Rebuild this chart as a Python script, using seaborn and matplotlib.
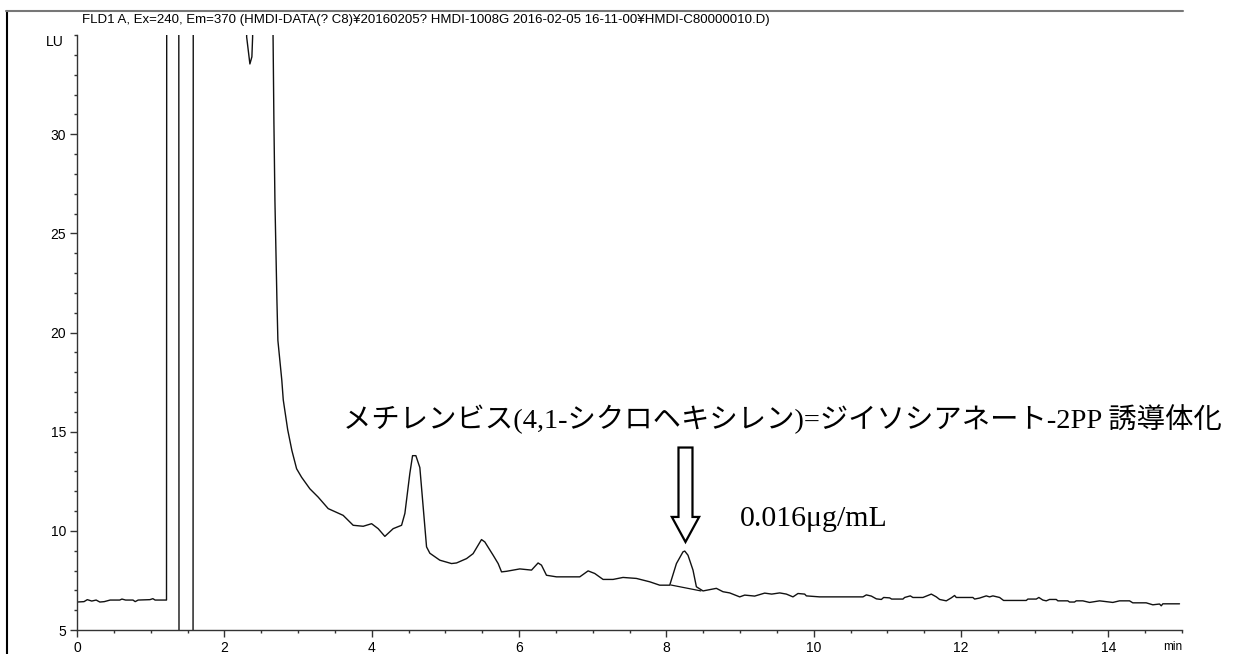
import numpy as np
import pandas as pd
import matplotlib
matplotlib.use("Agg")
import matplotlib.pyplot as plt
from matplotlib.lines import Line2D
from matplotlib.patches import FancyArrow
from matplotlib.ticker import MultipleLocator, FixedLocator
import seaborn as sns

# Fluorescence trace (retention time in min, signal in LU); 60 / 0 mark off-scale excursions
time_min = [
    0.00, 0.095, 0.14, 0.20, 0.26, 0.31, 0.37, 0.45, 0.58, 0.61, 0.66, 0.76, 0.79, 0.83,
    0.99, 1.03, 1.06, 1.215, 1.22, 1.38, 1.385, 1.575, 1.58, 2.29, 2.303, 2.347, 2.374,
    2.384, 2.39, 2.64, 2.66, 2.673, 2.687, 2.714, 2.727, 2.78, 2.80, 2.86, 2.917, 2.981,
    3.049, 3.161, 3.274, 3.410, 3.613, 3.749, 3.885, 3.999, 4.088, 4.179, 4.292, 4.406,
    4.451, 4.518, 4.555, 4.600, 4.654, 4.699, 4.745, 4.790, 4.925, 5.084, 5.152, 5.288,
    5.377, 5.491, 5.536, 5.649, 5.717, 5.763, 5.831, 6.011, 6.170, 6.259, 6.305, 6.373,
    6.509, 6.645, 6.825, 6.938, 7.028, 7.141, 7.277, 7.412, 7.594, 7.775, 7.910, 8.046,
    8.137, 8.226, 8.250, 8.294, 8.362, 8.408, 8.498, 8.679, 8.769, 8.860, 8.996, 9.064,
    9.199, 9.335, 9.430, 9.539, 9.630, 9.719, 9.787, 9.878, 9.901, 10.081, 10.669, 10.715,
    10.783, 10.851, 10.919, 10.950, 11.031, 11.058, 11.212, 11.235, 11.312, 11.347, 11.483,
    11.597, 11.665, 11.710, 11.800, 11.868, 11.913, 11.936, 12.161, 12.185, 12.252, 12.343,
    12.388, 12.433, 12.524, 12.578, 12.886, 12.908, 13.022, 13.057, 13.111, 13.157, 13.202,
    13.293, 13.315, 13.450, 13.473, 13.541, 13.564, 13.654, 13.745, 13.881, 14.061, 14.152,
    14.288, 14.332, 14.514, 14.604, 14.695, 14.718, 14.740, 14.966,
]
signal_lu = [
    6.41, 6.43, 6.53, 6.46, 6.51, 6.41, 6.43, 6.51, 6.51, 6.56, 6.51, 6.51, 6.43, 6.51,
    6.53, 6.58, 6.51, 6.51, 60.0, 60.0, 0.0, 0.0, 60.0, 60.0, 34.9, 33.54, 33.9,
    34.9, 60.0, 60.0, 35.5, 30.6, 26.6, 21.6, 19.6, 17.6, 16.6, 15.1, 14.05, 13.13,
    12.70, 12.12, 11.70, 11.12, 10.78, 10.28, 10.23, 10.36, 10.11, 9.72, 10.11, 10.28,
    10.88, 12.89, 13.79, 13.79, 13.19, 11.20, 9.19, 8.87, 8.52, 8.35, 8.38, 8.60,
    8.85, 9.56, 9.44, 8.77, 8.35, 7.93, 7.96, 8.08, 8.02, 8.38, 8.27, 7.76,
    7.68, 7.68, 7.68, 7.98, 7.85, 7.55, 7.55, 7.65, 7.60, 7.43, 7.26, 7.26,
    8.35, 8.94, 8.98, 8.77, 8.02, 7.18, 6.97, 7.10, 6.93, 6.87, 6.67, 6.76,
    6.71, 6.86, 6.81, 6.87, 6.81, 6.67, 6.84, 6.81, 6.72, 6.67, 6.67, 6.77,
    6.71, 6.57, 6.54, 6.64, 6.62, 6.56, 6.56, 6.64, 6.72, 6.64, 6.64,
    6.81, 6.67, 6.54, 6.47, 6.62, 6.74, 6.64, 6.64, 6.56, 6.61, 6.72,
    6.67, 6.72, 6.64, 6.49, 6.49, 6.56, 6.56, 6.64, 6.51, 6.47, 6.54,
    6.54, 6.47, 6.47, 6.41, 6.41, 6.47, 6.47, 6.39, 6.47, 6.39, 6.47,
    6.47, 6.37, 6.37, 6.27, 6.31, 6.22, 6.32, 6.32,
]

# Integration baseline drawn under the analyte peak
baseline_min = [8.06, 8.47]
baseline_lu = [7.27, 6.97]

x_major = [0, 2, 4, 6, 8, 10, 12, 14]
y_major = [5, 10, 15, 20, 25, 30]

header = ("FLD1 A, Ex=240, Em=370 (HMDI-DATA(? C8)\u00a520160205? HMDI-1008G "
          "2016-02-05 16-11-00\u00a5HMDI-C80000010.D)")
compound = "メチレンビス(4,1-シクロヘキシレン)=ジイソシアネート-2PP 誘導体化"
concentration = "0.016μg/mL"

sns.set_theme(style="ticks")
plt.rcParams["font.family"] = ["Liberation Sans", "DejaVu Sans"]

W, H = 1236, 654
fig = plt.figure(figsize=(W / 100, H / 100), dpi=100)
ax = fig.add_axes([77 / W, 1 - 630 / H, (1182 - 77) / W, (630 - 35) / H])

trace = pd.DataFrame({"t": time_min, "lu": signal_lu})
sns.lineplot(data=trace, x="t", y="lu", ax=ax, sort=False, estimator=None,
             color="#111111", lw=1.0)
sns.lineplot(x=baseline_min, y=baseline_lu, ax=ax, sort=False, estimator=None,
             color="#111111", lw=0.9)

ax.set_xlim(0, 15)
ax.set_ylim(5, 35)
ax.set_xlabel("")
ax.set_ylabel("")

ax.xaxis.set_major_locator(FixedLocator(x_major))
ax.xaxis.set_minor_locator(MultipleLocator(0.5))
ax.yaxis.set_major_locator(FixedLocator(y_major))
ax.yaxis.set_minor_locator(MultipleLocator(1))
ax.tick_params(which="major", length=5, width=1, color="#333333",
               labelsize=10, pad=3, labelcolor="black")
ax.tick_params(which="minor", length=2.5, width=1, color="#333333")

for side in ("top", "right"):
    ax.spines[side].set_visible(False)
for side in ("left", "bottom"):
    ax.spines[side].set_color("#333333")
    ax.spines[side].set_linewidth(1.0)

# Hollow block arrow pointing at the analyte peak
arrow_x, arrow_top, arrow_tip = 8.26, 14.2, 9.44
ax.add_patch(FancyArrow(arrow_x, arrow_top, 0, arrow_tip - arrow_top,
                        width=0.19, head_width=0.37, head_length=1.26,
                        length_includes_head=True, fc="white", ec="black",
                        lw=1.6, zorder=5))

label_font = ["Liberation Serif", "Noto Sans CJK JP"]
ax.text(3.61, 15.65, compound, family=label_font, fontsize=20.4,
        ha="left", va="center", color="black")
ax.text(9.0, 10.58, concentration, family=label_font, fontsize=21.5,
        ha="left", va="center", color="black")

fig.text(82 / W, 1 - 20 / H, header, fontsize=9.5,
         ha="left", va="center", color="black")
fig.text(64 / W, 1 - 42 / H, "LU", fontsize=10,
         ha="right", va="center", color="black")
fig.text(1182 / W, 1 - 647 / H, "min", fontsize=8.5,
         ha="right", va="center", color="black")

# Outer frame edges (left and top)
fig.add_artist(Line2D([6.5 / W, 6.5 / W], [0, 1 - 11 / H], transform=fig.transFigure,
                      color="black", lw=1.5))
fig.add_artist(Line2D([6 / W, 1183 / W], [1 - 11 / H, 1 - 11 / H],
                      transform=fig.transFigure, color="#777777", lw=1.5))

fig.savefig("out.png", dpi=100)
